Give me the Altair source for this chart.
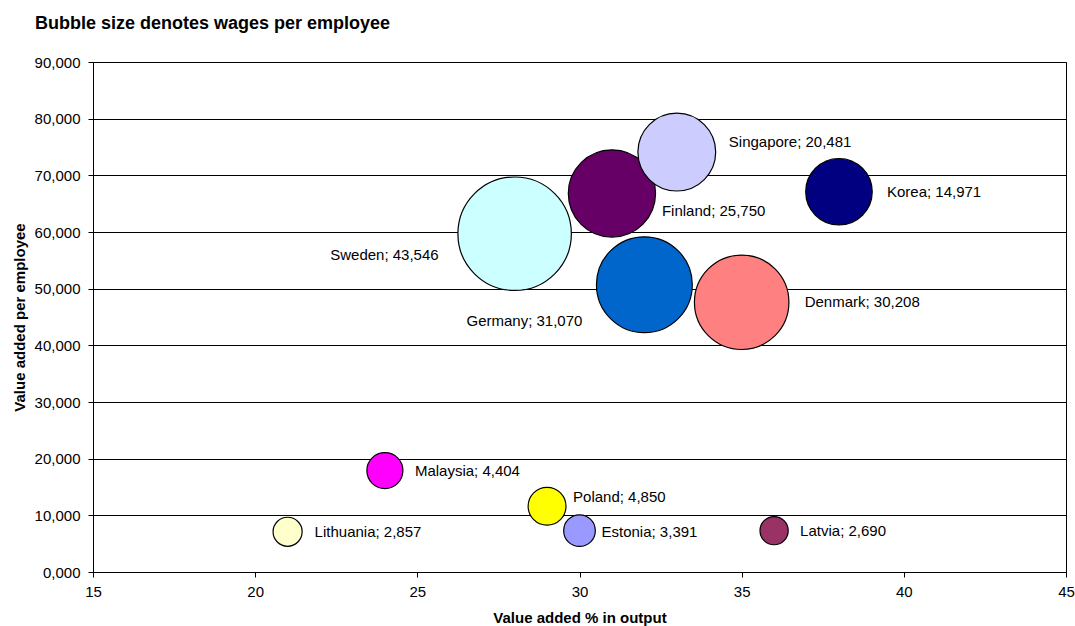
import altair as alt
import pandas as pd

# ---- data ----
countries = ["Sweden", "Denmark", "Germany", "Finland", "Singapore", "Korea",
             "Poland", "Malaysia", "Estonia", "Lithuania", "Latvia"]
value_added_pct = [28, 35, 32, 31, 33, 38, 29, 24, 30, 21, 36]
value_added_per_employee = [59700, 47600, 50700, 66800, 74100, 67100,
                            11600, 17900, 7300, 7100, 7300]
wages_per_employee = [43546, 30208, 31070, 25750, 20481, 14971,
                      4850, 4404, 3391, 2857, 2690]
bubble_colors = ["#CCFFFF", "#FF8080", "#0066CC", "#660066", "#CCCCFF", "#000080",
                 "#FFFF00", "#FF00FF", "#9999FF", "#FFFFCC", "#993366"]
x_ticks = [15, 20, 25, 30, 35, 40, 45]
y_ticks = [0, 10000, 20000, 30000, 40000, 50000, 60000, 70000, 80000, 90000]

# label placement relative to each bubble (pixels): dx, dy, align
label_offsets = {
    "Sweden": (-76, 21, "right"),
    "Germany": (-62, 36, "right"),
    "Finland": (50, 18, "left"),
    "Singapore": (52, -10, "left"),
    "Korea": (48, 0, "left"),
    "Denmark": (63, 0, "left"),
    "Malaysia": (30, 0, "left"),
    "Poland": (26, -9, "left"),
    "Estonia": (22, 1, "left"),
    "Latvia": (26, 0, "left"),
    "Lithuania": (27, 0, "left"),
}

df = pd.DataFrame({
    "country": countries,
    "pct": value_added_pct,
    "vape": value_added_per_employee,
    "wages": wages_per_employee,
    "draw": list(range(len(countries))),
})
df["label"] = [f"{c}; {w:,}" for c, w in zip(countries, wages_per_employee)]

FONT = "Liberation Sans"

x_enc = alt.X(
    "pct:Q",
    scale=alt.Scale(domain=[15, 45], nice=False, zero=False),
    axis=alt.Axis(values=x_ticks, grid=False, title="Value added % in output",
                  labelPadding=7, labelFlush=False,
                  titleY=50, titleBaseline="alphabetic"),
)
y_enc = alt.Y(
    "vape:Q",
    scale=alt.Scale(domain=[0, 90000], nice=False),
    axis=alt.Axis(values=y_ticks, grid=True, title="Value added per employee",
                  labelPadding=8, labelFlush=False,
                  labelExpr="datum.value == 0 ? '0,000' : format(datum.value, ',')",
                  titleX=-74, titleY=255, titleBaseline="middle", titleAlign="center"),
)

base = alt.Chart(df)

bubbles = base.mark_circle(opacity=1, stroke="black", strokeWidth=1.2).encode(
    x=x_enc,
    y=y_enc,
    size=alt.Size("wages:Q", scale=alt.Scale(domain=[0, 43546], range=[0, 12868], zero=True),
                  legend=None),
    color=alt.Color("country:N", scale=alt.Scale(domain=countries, range=bubble_colors),
                    legend=None),
    order=alt.Order("draw:Q"),
)

label_layers = []
for c in countries:
    dx, dy, align = label_offsets[c]
    label_layers.append(
        base.transform_filter(alt.datum.country == c).mark_text(
            align=align, baseline="middle", dx=dx, dy=dy,
            font=FONT, fontSize=15, color="black",
        ).encode(x=alt.X("pct:Q"), y=alt.Y("vape:Q"), text="label:N")
    )

chart = alt.layer(bubbles, *label_layers).properties(
    width=973,
    height=510,
    background="white",
    autosize=alt.AutoSizeParams(type="none"),
    padding={"left": 93, "top": 62, "right": 9, "bottom": 54},
    title=alt.TitleParams(
        "Bubble size denotes wages per employee",
        anchor="start", frame="group", dx=-58, offset=8, baseline="alphabetic",
        font=FONT, fontSize=18, fontWeight="bold", color="black",
    ),
).configure_view(
    stroke="black", strokeWidth=1
).configure_axis(
    labelFont=FONT, labelFontSize=15, labelColor="black",
    titleFont=FONT, titleFontSize=15, titleFontWeight="bold", titleColor="black",
    domainColor="black", tickColor="black", tickSize=5,
    gridColor="black", gridWidth=1, gridOpacity=1,
)

chart.save("out.html", embed_options={"renderer": "svg", "actions": False})
